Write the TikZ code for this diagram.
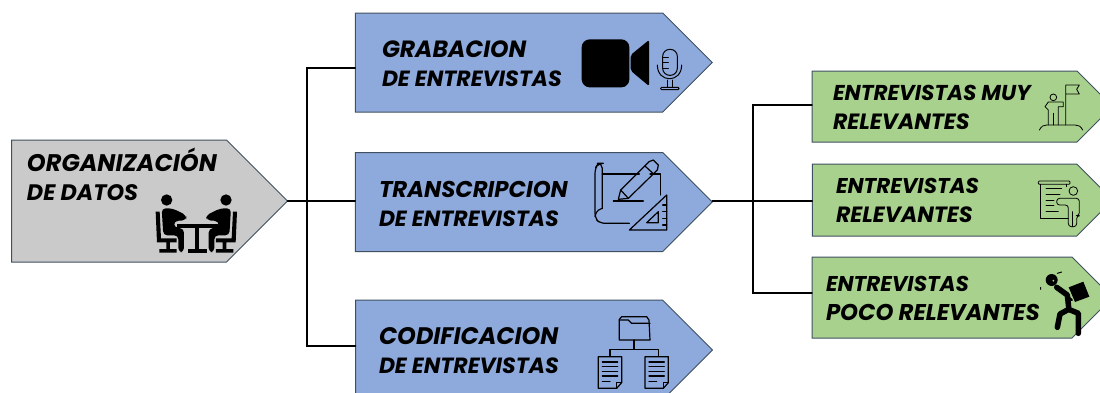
\documentclass[tikz,border=0pt]{standalone}
\usepackage{fontspec}
\setmainfont{Poppins}
\usetikzlibrary{shapes.symbols,calc}
\definecolor{edgeC}{HTML}{3F5060}
\definecolor{grayF}{HTML}{CACACA}
\definecolor{blueF}{HTML}{8EA9DB}
\definecolor{greenF}{HTML}{A9D18E}
\newcommand{\sz}[1]{\fontsize{#1}{28.6}\selectfont}
\tikzset{
  x=1pt,y=-1pt,
  tag/.style={signal,signal to=east,signal pointer angle=90,draw=edgeC,line width=1pt,inner sep=0pt,outer sep=0pt},
  link/.style={draw=black,line width=1.4pt,line cap=round,line join=miter},
  lbl/.style={inner sep=0pt,outer sep=0pt,anchor=base west,align=left,text=black,font=\sz{22}\bfseries\itshape},
  ink/.style={draw=black,fill=none,line width=1.2pt,line cap=round,line join=round},
  zoomA/.style={shift={(#1)},scale=1/3},
}
\newcommand{\seated}{%
  \fill (500,210) circle[radius=17];
  \fill[rounded corners=4] (485,235)--(517,235)--(560,256)--(558,271)--(522,273)--(522,292)--(552,296)--(552,366)--(535,366)--(535,316)--(490,316)--cycle;
  \fill (467,245)--(479,245)--(483,325)--(530,325)--(530,337)--(510,337)--(510,357)--(530,357)--(530,368)--(478,368)--(478,357)--(499,357)--(499,337)--(471,337)--cycle;
}
\newcommand{\docicon}{%
  \draw (0,0)--(70,0)--(70,78)--(55,95)--(0,95)--cycle;
  \draw (55,95)--(55,78)--(70,78);
  \draw (12,16)--(58,16) (12,30)--(58,30) (12,44)--(58,44) (12,58)--(58,58) (12,74)--(35,74);
}
\begin{document}
\begin{tikzpicture}
\useasboundingbox (0,0) rectangle (1100,392);
\clip (0,0) rectangle (1100,392);
% boxes
\node[tag,fill=grayF,minimum width=276pt,minimum height=122pt] (org) at (119,201) {};
\node[tag,fill=blueF,minimum width=357pt,minimum height=99pt] (grab) at (509,62.5) {};
\node[tag,fill=blueF,minimum width=357pt,minimum height=99pt] (trans) at (509,202) {};
\node[tag,fill=blueF,minimum width=357pt,minimum height=100pt] (cod) at (509,350) {};
\node[tag,fill=greenF,minimum width=300.5pt,minimum height=71pt] (muy) at (944.5,106.5) {};
\node[tag,fill=greenF,minimum width=300.5pt,minimum height=72pt] (rel) at (944.5,200) {};
\node[tag,fill=greenF,minimum width=300.5pt,minimum height=81pt] (poco) at (942,297.5) {};
% connector corners
\coordinate (busL) at (307,201);
\coordinate (busR) at (753,201);
% connectors
\draw[link] (org.east) -- (busL);
\draw[link] (busL) |- ($(grab.west)+(0,5.5)$);
\draw[link] (busL) -- (busL -| trans.west);
\draw[link] (busL) |- ($(cod.west)+(0,-4)$);
\draw[link] (busL -| trans.east) -- (busR);
\draw[link] (busR) |- ($(muy.west)+(0,-1.5)$);
\draw[link] (busR) -- (busR -| rel.west);
\draw[link] (busR) |- ($(poco.west)+(0,-4.5)$);
% labels
\node[lbl] (torg) at (27,200) {{\sz{24}ORGANIZACIÓN}\\{\sz{22.4}DE DATOS}};
\node[lbl] (tgrab) at (382,86) {{\sz{23.5}GRABACION}\\{\sz{22}DE ENTREVISTAS}};
\node[lbl] (ttrans) at (379,226) {{\sz{22.8}TRANSCRIPCION}\\{\sz{22}DE ENTREVISTAS}};
\node[lbl] (tcod) at (379,373) {{\sz{23.9}CODIFICACION}\\{\sz{22}DE ENTREVISTAS}};
\node[lbl] (tmuy) at (833,129) {{\sz{21.5}ENTREVISTAS MUY}\\{\sz{22.1}RELEVANTES}};
\node[lbl] (trel) at (836,222) {{\sz{21.4}ENTREVISTAS}\\{\sz{22.1}RELEVANTES}};
\node[lbl] (tpoco) at (826,320) {{\sz{21.4}ENTREVISTAS}\\{\sz{22.8}POCO RELEVANTES}};
% icon: meeting
\begin{scope}[zoomA={0,130}]
  \seated
  \begin{scope}[xshift=1178pt,xscale=-1]\seated\end{scope}
  \fill (530,283) rectangle (655,295);
  \fill (586,295) rectangle (598,357);
  \fill (565,357) rectangle (620,368);
\end{scope}
% icon: camera and microphone
\begin{scope}[zoomA={350,0}]
  \fill[rounded corners=8] (695,118) rectangle (838,262);
  \fill[rounded corners=2] (842,165)--(897,120)--(897,258)--(842,212)--cycle;
  \draw[ink,line width=1pt,rounded corners=7] (938,148) rectangle (982,226);
  \draw[ink,line width=1pt] (922,195) .. controls (922,250) and (995,250) .. (995,195);
  \draw[ink,line width=1pt] (938,172)--(955,172) (938,188)--(955,188) (938,204)--(955,204);
  \draw[ink,line width=1pt] (952,240)--(952,262) (966,240)--(966,262);
  \draw[ink,line width=1pt,rounded corners=1] (932,262) rectangle (987,269);
\end{scope}
% icon: blueprint
\begin{scope}[zoomA={350,140}]
  \draw[ink,rounded corners=5] (757,205)--(757,70)--(745,70)--(735,85)--(735,235)--(750,250)--(838,250);
  \draw[ink] (735,230) .. controls (738,210) and (750,208) .. (757,205);
  \draw[ink] (757,102)--(868,102) (900,102)--(932,102)--(932,165);
  \draw[ink] (805,178)--(812,150)--(897,65)--(910,60)--(925,75)--(922,90)--(835,175)--cycle;
  \draw[ink] (885,78)--(912,103) (812,150)--(835,175);
  \draw[ink] (790,183)--(880,183);
  \draw[ink] (838,270)--(950,165)--(950,270)--cycle;
  \draw[ink] (890,248)--(925,215)--(925,248)--cycle;
  \draw[ink] (938,195)--(950,195) (938,215)--(950,215) (938,235)--(950,235) (938,255)--(950,255);
\end{scope}
% icon: folder tree
\begin{scope}[zoomA={350,290}]
  \draw[ink] (808,150)--(808,88)--(815,80)--(890,80)--(897,90)--(900,150)--cycle;
  \draw[ink] (808,90)--(835,90)--(845,100)--(900,100);
  \draw[ink] (852,150)--(852,178) (780,198)--(780,178)--(925,178)--(925,198);
  \begin{scope}[ink,shift={(745,200)}]\docicon\end{scope}
  \begin{scope}[ink,shift={(885,200)}]\docicon\end{scope}
\end{scope}
% icon: flag and man
\begin{scope}[zoomA={800,60}]
  \draw[ink,line width=.8pt] (718,210) .. controls (725,198) and (730,195) .. (740,195)--(825,195) .. controls (835,195) and (842,198) .. (848,210);
  \draw[ink,line width=.8pt] (797,195)--(797,75)--(838,75)--(830,88)--(838,102)--(797,102);
  \draw[ink,line width=.8pt] (760,112) circle[radius=10];
  \draw[ink,line width=.8pt] (745,195)--(745,150)--(735,140)--(745,126)--(790,126)--(790,140)--(775,140)--(775,195);
  \draw[ink,line width=.8pt] (760,160)--(760,195);
\end{scope}
% icon: presenter
\begin{scope}[zoomA={800,155}]
  \draw[ink,line width=.8pt,rounded corners=1] (715,78) rectangle (810,88);
  \draw[ink,line width=.8pt] (722,88)--(722,190)--(805,190) (800,88)--(800,95);
  \draw[ink,line width=.8pt] (738,100)--(785,100) (738,118)--(780,118) (738,135)--(762,135) (738,150)--(762,150) (738,170)--(775,170);
  \draw[ink,line width=.8pt] (820,108) circle[radius=13];
  \draw[ink,line width=.8pt,rounded corners=3] (770,130)--(838,130)--(838,182)--(830,182)--(830,215)--(805,215)--(805,150)--(770,150)--cycle;
  \draw[ink,line width=.8pt] (818,170)--(818,215);
\end{scope}
% icon: man carrying a box
\begin{scope}[zoomA={800,250}]
  \fill (755,90) circle[radius=18];
  \fill[greenF] (760,92) circle[radius=3];
  \fill (806,112)--(850,95)--(868,140)--(825,156)--cycle;
  \draw[ink,line width=5.5pt] (770,112)--(802,135)--(806,172);
  \draw[ink,line width=5.5pt] (806,178)--(780,192)--(772,232);
  \draw[ink,line width=5.5pt] (806,178)--(835,190)--(835,250);
  \draw[ink,line width=2.5pt] (775,118)--(815,150);
  \draw[ink,line width=1pt] (772,70)--(785,66) (722,112)--(722,118);
\end{scope}
\end{tikzpicture}
\end{document}
